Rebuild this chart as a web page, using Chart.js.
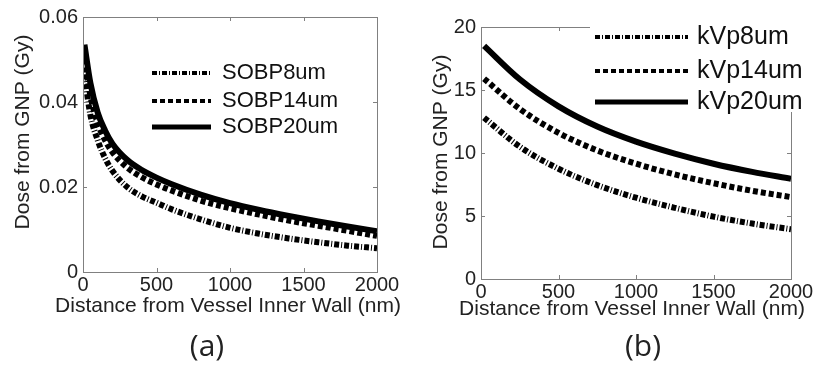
<!DOCTYPE html>
<html>
<head>
<meta charset="utf-8">
<script src="https://cdn.jsdelivr.net/npm/chart.js@4.4.1/dist/chart.umd.min.js"></script>
<style>
	body { margin: 0; background: #fff; width: 818px; height: 370px; position: relative; overflow: hidden; }
	canvas { position: absolute; top: 0; }
	#chartA { left: 0; }
	#chartB { left: 409px; }
	.cap { position: absolute; top: 324px; width: 80px; text-align: center; font: 30px 'Open Sans', 'Noto Sans', sans-serif; color: #222; }
</style>
</head>
<body>
<canvas id="chartA" width="409" height="330"></canvas>
<canvas id="chartB" width="409" height="330"></canvas>
<div class="cap" style="left:167px">(a)</div>
<div class="cap" style="left:603px">(b)</div>
<script>
'use strict';

// Panel (a): SOBP proton beam
const distA = [10, 50, 100, 150, 200, 300, 400, 500, 600, 800, 1000, 1200, 1400, 1600, 1800, 2000];
const sobp8 = [0.0465, 0.037, 0.031, 0.0268, 0.0238, 0.0200, 0.0178, 0.0163, 0.0148, 0.0124, 0.0104, 0.0090, 0.0079, 0.0070, 0.0062, 0.0056];
const sobp14 = [0.0500, 0.0415, 0.035, 0.031, 0.0282, 0.0246, 0.0223, 0.0206, 0.0192, 0.0168, 0.0150, 0.0135, 0.0121, 0.0109, 0.0097, 0.0085];
const sobp20 = [0.0535, 0.0445, 0.0375, 0.0333, 0.0302, 0.0264, 0.0240, 0.0222, 0.0207, 0.0182, 0.0162, 0.0146, 0.0132, 0.0119, 0.0107, 0.0096];

// Panel (b): kVp beam
const distB = [20, 250, 500, 750, 1000, 1250, 1500, 1750, 2000];
const kvp8 = [12.8, 10.5, 8.75, 7.45, 6.45, 5.65, 4.95, 4.4, 3.95];
const kvp14 = [15.9, 13.5, 11.6, 10.2, 9.15, 8.3, 7.6, 7.0, 6.5];
const kvp20 = [18.5, 15.85, 13.7, 12.1, 10.9, 9.95, 9.15, 8.5, 7.95];

const xTicks = [0, 500, 1000, 1500, 2000];
const yTicksA = [0, 0.02, 0.04, 0.06];
const yTicksB = [0, 5, 10, 15, 20];

const labelsA = ['SOBP8um', 'SOBP14um', 'SOBP20um'];
const labelsB = ['kVp8um', 'kVp14um', 'kVp20um'];

const X_TITLE = 'Distance from Vessel Inner Wall (nm)';
const Y_TITLE = 'Dose from GNP (Gy)';

const FONT = "'Liberation Sans', Arial, sans-serif";
const dashes = [[5, 2, 1, 2], [5, 3], []];

function toPoints(xs, ys) {
	return xs.map((x, i) => ({ x: x, y: ys[i] }));
}

function makeDatasets(labels, series, xs) {
	return series.map((s, i) => ({
		label: labels[i],
		data: toPoints(xs, s),
		borderColor: '#000',
		borderWidth: 6,
		borderDash: dashes[i],
		borderCapStyle: 'butt',
		pointRadius: 0,
		fill: false,
		cubicInterpolationMode: 'monotone'
	}));
}

// box round the plot with small inward ticks, matlab style
const boxPlugin = {
	id: 'box',
	afterDatasetsDraw(chart) {
		const { ctx, chartArea: a, scales } = chart;
		ctx.save();
		ctx.strokeStyle = '#808080';
		ctx.lineWidth = 1;
		ctx.strokeRect(a.left + 0.5, a.top + 0.5, a.right - a.left, a.bottom - a.top);
		ctx.beginPath();
		scales.x.ticks.forEach(t => {
			const px = Math.round(scales.x.getPixelForValue(t.value)) + 0.5;
			ctx.moveTo(px, a.bottom); ctx.lineTo(px, a.bottom - 4);
			ctx.moveTo(px, a.top); ctx.lineTo(px, a.top + 4);
		});
		scales.y.ticks.forEach(t => {
			const py = Math.round(scales.y.getPixelForValue(t.value)) + 0.5;
			ctx.moveTo(a.left, py); ctx.lineTo(a.left + 4, py);
			ctx.moveTo(a.right, py); ctx.lineTo(a.right - 4, py);
		});
		ctx.stroke();
		ctx.restore();
	}
};

// axis titles drawn by hand: chart.js squeezes the x title to the plot width
function titlesPlugin(cfg) {
	return {
		id: 'titles',
		afterDraw(chart) {
			const ctx = chart.ctx;
			ctx.save();
			ctx.fillStyle = '#222';
			ctx.font = '21px ' + FONT;
			ctx.textAlign = 'center';
			ctx.textBaseline = 'middle';
			ctx.fillText(X_TITLE, cfg.xt[0], cfg.xt[1]);
			ctx.translate(cfg.yt[0], cfg.yt[1]);
			ctx.rotate(-Math.PI / 2);
			ctx.fillText(Y_TITLE, 0, 0);
			ctx.restore();
		}
	};
}

function legendPlugin(cfg) {
	return {
		id: 'legendBox',
		afterDraw(chart) {
			const ctx = chart.ctx;
			ctx.save();
			if (cfg.bg) {
				ctx.fillStyle = '#fff';
				ctx.fillRect(cfg.bg[0], cfg.bg[1], cfg.bg[2], cfg.bg[3]);
			}
			chart.data.datasets.forEach((ds, i) => {
				const y = cfg.ys[i];
				ctx.strokeStyle = '#000';
				ctx.lineWidth = i === 2 ? 5 : 4;
				ctx.lineCap = 'butt';
				ctx.setLineDash(ds.borderDash);
				ctx.beginPath();
				ctx.moveTo(cfg.x0, y);
				ctx.lineTo(cfg.x1, y);
				ctx.stroke();
				ctx.setLineDash([]);
				ctx.fillStyle = '#111';
				ctx.font = cfg.size + 'px ' + FONT;
				ctx.textBaseline = 'middle';
				ctx.fillText(ds.label, cfg.textX, y);
			});
			ctx.restore();
		}
	};
}

function makeChart(id, datasets, yMax, yTicks, yWidth, xHeight, pad, titles, legendCfg) {
	return new Chart(document.getElementById(id), {
		type: 'line',
		data: { datasets: datasets },
		plugins: [boxPlugin, titlesPlugin(titles), legendPlugin(legendCfg)],
		options: {
			responsive: false,
			animation: false,
			devicePixelRatio: 1,
			layout: { padding: pad },
			plugins: { legend: { display: false }, tooltip: { enabled: false } },
			scales: {
				x: {
					type: 'linear',
					min: 0,
					max: 2000,
					afterBuildTicks: s => { s.ticks = xTicks.map(v => ({ value: v })); },
					afterFit: s => { s.height = xHeight; },
					grid: { display: false, drawTicks: false },
					border: { display: false },
					ticks: { font: { size: 20, family: FONT }, color: '#222', padding: 1, maxRotation: 0, callback: v => String(v) }
				},
				y: {
					min: 0,
					max: yMax,
					afterBuildTicks: s => { s.ticks = yTicks.map(v => ({ value: v })); },
					afterFit: s => { s.width = yWidth; },
					grid: { display: false, drawTicks: false },
					border: { display: false },
					ticks: { font: { size: 20, family: FONT }, color: '#222', padding: 5, callback: v => String(v) }
				}
			}
		}
	});
}

makeChart('chartA', makeDatasets(labelsA, [sobp8, sobp14, sobp20], distA), 0.06, yTicksA, 83, 58,
	{ left: 0, right: 32, top: 15, bottom: 0 },
	{ xt: [228, 306], yt: [23, 132] },
	{ x0: 152, x1: 211, textX: 222, ys: [73, 101, 127], size: 22 });

makeChart('chartB', makeDatasets(labelsB, [kvp8, kvp14, kvp20], distB), 20, yTicksB, 72, 51,
	{ left: 0, right: 27, top: 27, bottom: 0 },
	{ xt: [223, 309], yt: [32, 152] },
	{ x0: 186, x1: 279, textX: 288, ys: [37, 71, 102], size: 25, bg: [181, 18, 228, 94] });
</script>
</body>
</html>
